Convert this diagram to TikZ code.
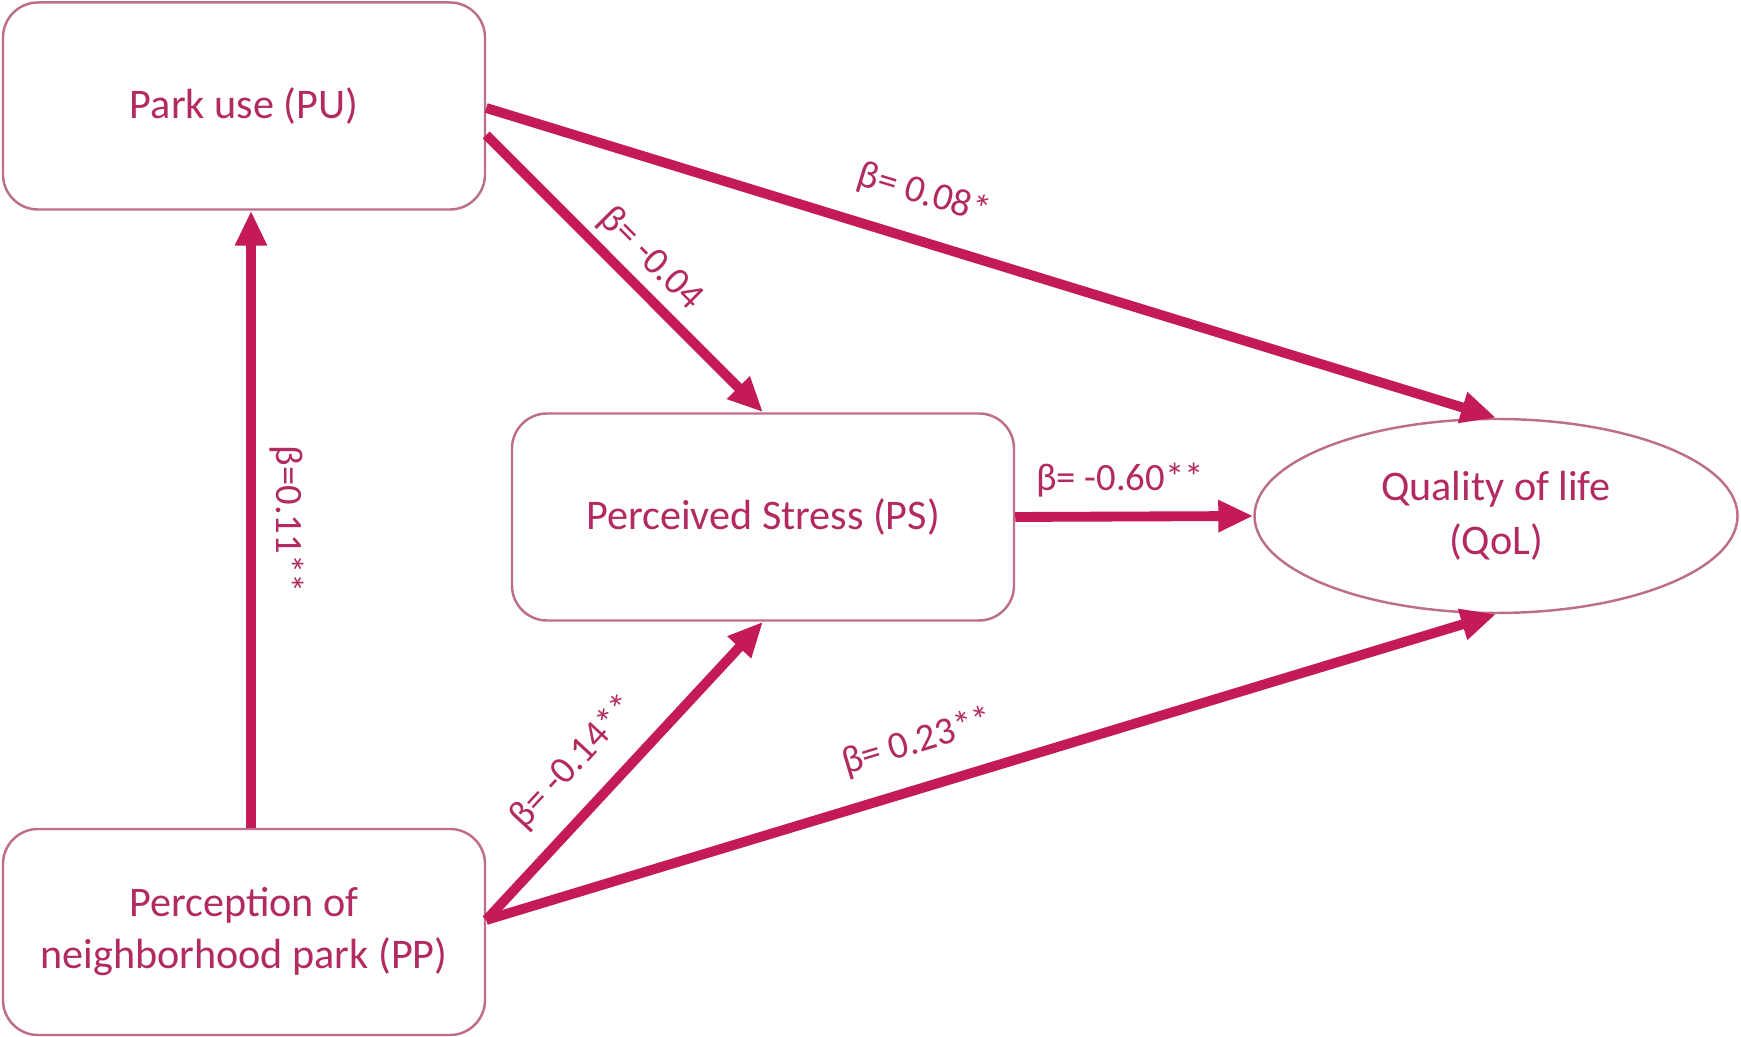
\documentclass[tikz,border=0pt]{standalone}
\usepackage{fontspec}
\setmainfont{Carlito}
\usetikzlibrary{arrows.meta,positioning,shapes.geometric}
\definecolor{parkred}{RGB}{196,26,88}
\definecolor{parktext}{RGB}{178,42,96}
\definecolor{parkline}{RGB}{188,110,140}
\tikzset{
    block/.style={draw=parkline, line width=0.7pt, rounded corners=3.5mm, text=parktext, align=center, font=\fontsize{12}{14.8}\selectfont},
    latent/.style={ellipse, draw=parkline, line width=0.7pt, text=parktext, align=center, font=\fontsize{12}{15.5}\selectfont},
    effect/.style={draw=parkred, line width=2.8pt, -{Triangle[length=3.5mm,width=3mm]}},
    coef/.style={text=parktext, font=\fontsize{11}{13}\selectfont, inner sep=2pt}
}

\begin{document}
\begin{tikzpicture}

    \useasboundingbox (0,0) rectangle (17.41,10.37);

    % Nodes
    \node[block, minimum width=4.82cm, minimum height=2.07cm] (PU) at (2.44,9.31) {Park use (PU)};
    \node[block, minimum width=5.02cm, minimum height=2.07cm] (PS) at (7.63,5.20) {Perceived Stress (PS)};
    \node[block, minimum width=4.82cm, minimum height=2.06cm] (PP) at (2.44,1.05) {Perception of\\neighborhood park (PP)};
    \node[latent, minimum width=4.83cm, minimum height=1.94cm] (QoL) at (14.96,5.21) {Quality of life\\(QoL)};

    % Paths
    \draw[effect] ([xshift=0.7mm]PP.north) -- node[coef, rotate=-90, anchor=south, inner sep=4pt] {β=0.11**} ([xshift=0.7mm]PU.south);
    \draw[effect] ([yshift=-2.9mm]PU.east) -- node[coef, sloped, above, pos=0.52] {β= -0.04} (PS.north);
    \draw[effect] ([yshift=-0.2mm]PU.east) -- node[coef, sloped, above=1.7mm, pos=0.42] {β= 0.08*} (QoL.north);
    \draw[effect] (PS.east) -- node[coef, above=0.7mm, pos=0.44] {β= -0.60**} (QoL.west);
    \draw[effect] ([yshift=1.2mm]PP.east) -- node[coef, sloped, above=1.4mm, pos=0.43] {β= -0.14**} (PS.south);
    \draw[effect] ([yshift=1.2mm]PP.east) -- node[coef, sloped, above=1.6mm, pos=0.44] {β= 0.23**} (QoL.south);

\end{tikzpicture}
\end{document}
